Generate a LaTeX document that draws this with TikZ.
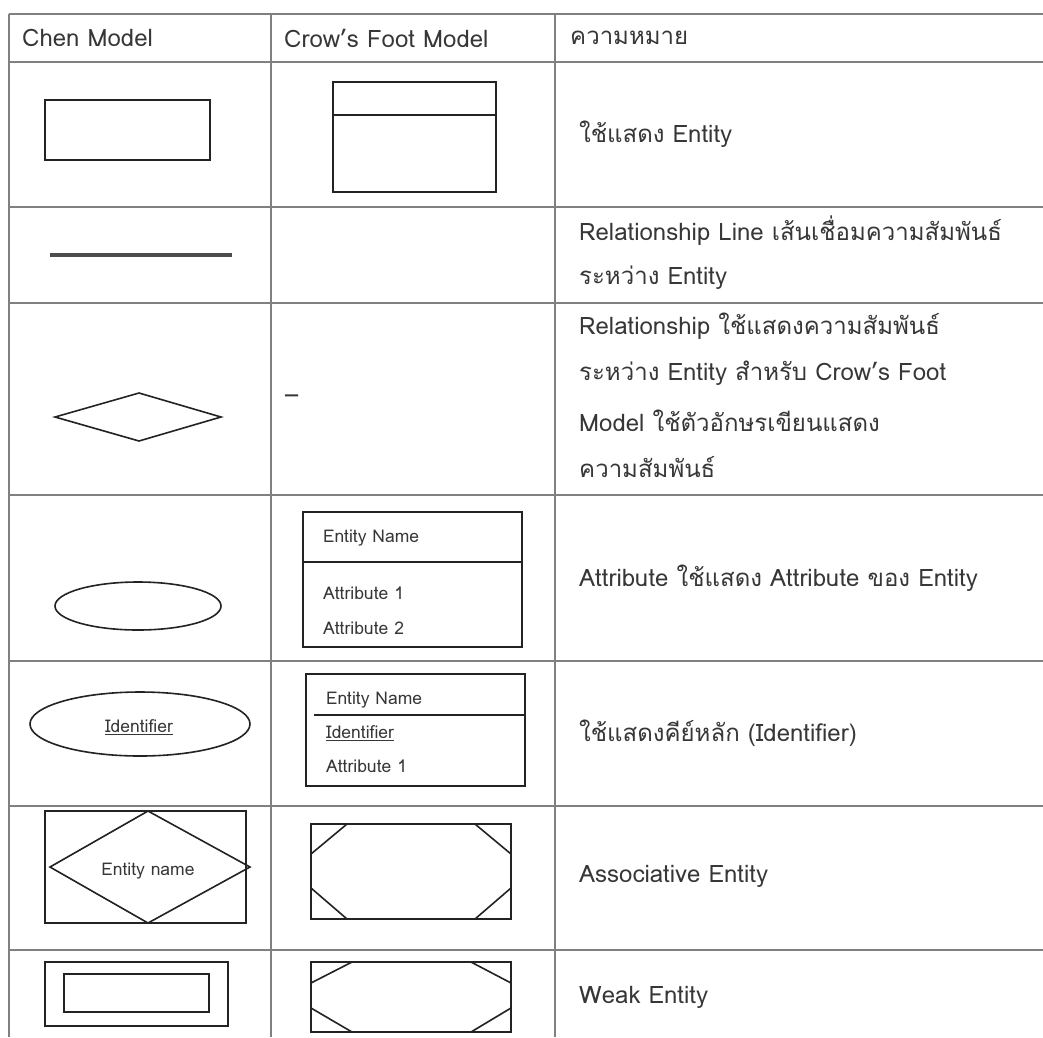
\documentclass[tikz,border=0pt]{standalone}
\usepackage{fontspec}
\setmainfont{Loma}[Script=Thai]
\usetikzlibrary{shapes.geometric}
\definecolor{gridgray}{RGB}{128,128,128}
\definecolor{shapeblk}{RGB}{35,35,35}
\definecolor{txtgray}{RGB}{55,55,55}
\tikzset{
  gridline/.style={draw=gridgray, line width=1.8pt},
  shp/.style={draw=shapeblk, line width=1.6pt},
  bigtxt/.style={anchor=west, inner sep=0pt, text=txtgray, font=\fontsize{24}{28}\selectfont},
  smalltxt/.style={anchor=west, inner sep=0pt, text=txtgray, font=\fontsize{17.5}{20}\selectfont},
  ctrtxt/.style={anchor=center, inner sep=0pt, text=txtgray, font=\fontsize{17.5}{20}\selectfont},
}
\begin{document}
\begin{tikzpicture}[x=1pt,y=-1pt]
\useasboundingbox[fill=white] (0,0) rectangle (1043,1037);
% table grid
\foreach \yy in {14,62,207,303,495,661,806,950}{
  \draw[gridline] (9,\yy) -- (1043,\yy);
}
\foreach \xx in {9,271,555}{
  \draw[gridline] (\xx,14) -- (\xx,1037);
}
% header
\node[bigtxt] (h1) at (22,38) {Chen Model};
\node[bigtxt] (h2) at (284,38) {Crow’s Foot Model};
\node[bigtxt] (h3) at (570,38) {ความหมาย};
% row 1: entity
\draw[shp] (45,100) rectangle (210,160);
\draw[shp] (333,82) rectangle (496,192);
\draw[shp] (333,115) -- (496,115);
\node[bigtxt] (m1) at (579,134) {ใช้แสดง Entity};
% row 2: relationship line
\draw[draw=black!70, line width=3.2pt] (50,255) -- (232,255);
\node[bigtxt] (m2a) at (579,231) {Relationship Line เส้นเชื่อมความสัมพันธ์};
\node[bigtxt] (m2b) at (579,278) {ระหว่าง Entity};
% row 3: relationship
\draw[shp] (55,417) -- (139,393) -- (221,417) -- (139,441) -- cycle;
\node[bigtxt] (c3) at (285,399) {–};
\node[bigtxt] (m3a) at (579,326) {Relationship ใช้แสดงความสัมพันธ์};
\node[bigtxt] (m3b) at (579,373) {ระหว่าง Entity สำหรับ Crow’s Foot};
\node[bigtxt] (m3c) at (579,421) {Model ใช้ตัวอักษรเขียนแสดง};
\node[bigtxt] (m3d) at (579,467) {ความสัมพันธ์};
% row 4: attribute
\draw[shp] (138,606) ellipse [x radius=83, y radius=24];
\draw[shp] (303,512) rectangle (522,647);
\draw[shp] (303,562) -- (522,562);
\node[smalltxt] (a4n) at (323,538) {Entity Name};
\node[smalltxt] (a4a) at (323,593) {Attribute 1};
\node[smalltxt] (a4b) at (323,628) {Attribute 2};
\node[bigtxt] (m4) at (579,578) {Attribute ใช้แสดง Attribute ของ Entity};
% row 5: identifier
\draw[shp] (140,724) ellipse [x radius=110, y radius=32];
\node[ctrtxt] (i5) at (139,727) {\underline{Identifier}};
\draw[shp] (306,674) rectangle (525,786);
\draw[shp] (314,715) -- (525,715);
\node[smalltxt] (i5n) at (326,700) {Entity Name};
\node[smalltxt] (i5i) at (326,733) {\underline{Identifier}};
\node[smalltxt] (i5a) at (326,766) {Attribute 1};
\node[bigtxt] (m5) at (579,733) {ใช้แสดงคีย์หลัก (Identifier)};
% row 6: associative entity
\draw[shp] (45,811) rectangle (246,923);
\draw[shp] (50,867) -- (148,811) -- (250,867) -- (148,923) -- cycle;
\node[ctrtxt] (e6) at (148,871) {Entity name};
\draw[shp] (311,824) rectangle (511,919);
\draw[shp] (347,824) -- (311,854);
\draw[shp] (475,824) -- (511,854);
\draw[shp] (311,888) -- (347,919);
\draw[shp] (511,888) -- (475,919);
\node[bigtxt] (m6) at (579,876) {Associative Entity};
% row 7: weak entity
\draw[shp] (45,962) rectangle (228,1026);
\draw[shp] (64,974) rectangle (209,1012);
\draw[shp] (311,962) rectangle (511,1032);
\draw[shp] (352,962) -- (311,983);
\draw[shp] (471,962) -- (511,983);
\draw[shp] (311,1008) -- (352,1032);
\draw[shp] (511,1008) -- (471,1032);
\node[bigtxt] (m7) at (579,997) {Weak Entity};
\end{tikzpicture}
\end{document}
